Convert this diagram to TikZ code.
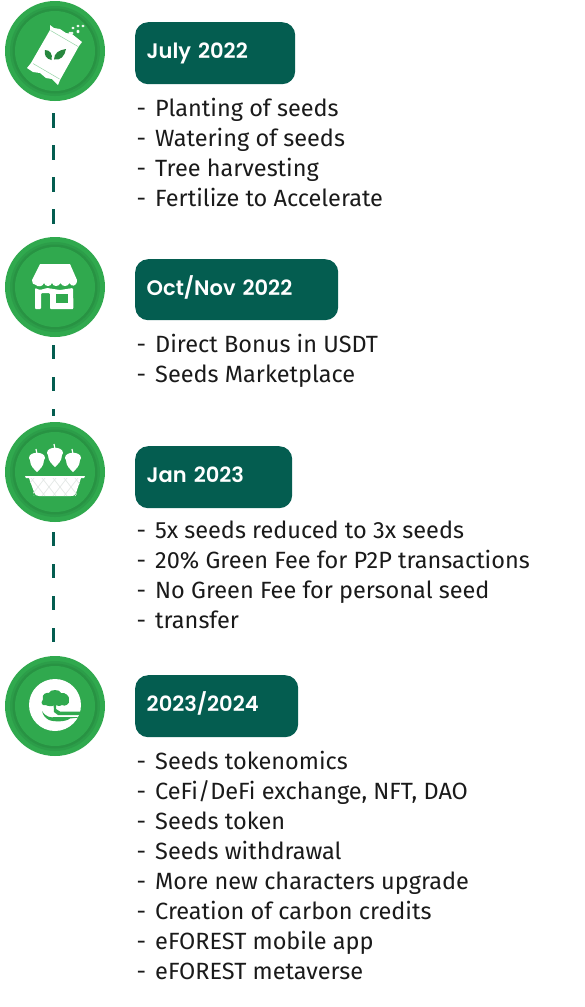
\documentclass[tikz,border=0pt]{standalone}
\usepackage{fontspec}
\setmainfont{Fira Sans}
\newfontfamily\headfont{Poppins SemiBold}
\definecolor{pine}{HTML}{045D50}
\definecolor{leaf}{HTML}{30A94E}
\definecolor{leafdark}{HTML}{278F41}
\definecolor{leafmid}{HTML}{2C9D49}
\definecolor{ink}{HTML}{1A1A1A}
\definecolor{lattice}{HTML}{E4E8E6}
\newcommand{\itm}[1]{\makebox[18.5pt][l]{-}#1\\}
\tikzset{
  x=1pt,y=-1pt,
  pill/.style={fill=pine,rounded corners=13pt,anchor=north west,inner sep=0pt,text=white,font=\headfont\fontsize{21}{24}\selectfont,align=left,text height=15.5pt,text depth=4.5pt},
  items/.style={anchor=north west,inner sep=0pt,align=left,text=ink,font=\fontsize{23.5}{30}\selectfont},
  link/.style={draw=pine,line width=3.4pt,dash pattern=on 15pt off 17pt},
  badge/.style={circle,fill=leaf,minimum size=100pt,inner sep=0pt},
  icon/.style={fill=white,draw=none},
}
\newcommand{\badgerings}[1]{%
  \fill[leafmid] (#1) circle (45);
  \fill[leafdark!85!leaf] (#1) circle (42.5);
  \fill[leaf] (#1) circle (40);
}
\newcommand{\acorn}[1]{%
 \begin{scope}[shift={(#1)}]
  \fill[icon] (-8,-4) .. controls (-8,-11) and (8,-11) .. (8,-4) -- (7,-2) .. controls (7,4) and (3,7) .. (0,10) .. controls (-3,7) and (-7,4) .. (-7,-2) -- cycle;
  \draw[white,line width=1.2pt] (0,-8) -- (-1,-13);
 \end{scope}}
\begin{document}
\begin{tikzpicture}
\useasboundingbox (0,0) rectangle (584,1007);
\fill[white] (0,0) rectangle (584,1007);

\node[badge] (b1) at (55,51) {};
\node[badge] (b2) at (55,287) {};
\node[badge] (b3) at (55,472) {};
\node[badge] (b4) at (55,706) {};
\badgerings{b1}\badgerings{b2}\badgerings{b3}\badgerings{b4}

\coordinate (s1) at (53.5,113); \coordinate (e1) at (53.5,224);
\coordinate (s2) at (53.5,345); \coordinate (e2) at (53.5,416);
\coordinate (s3) at (53.5,532); \coordinate (e3) at (53.5,643);
\draw[link] (s1) -- (e1);
\draw[link,dash pattern=on 14pt off 18pt] (s2) -- (e2);
\draw[link,dash pattern=on 14pt off 18pt] (s3) -- (e3);

% seed bag
\fill[icon] (50,25) -- (54,28) -- (60,29) -- (66,33) -- (72,34) -- (82,42) -- (79,46) -- (60,80) -- (58,85) -- (52,79) -- (46,78) -- (40,73) -- (33,72) -- (27,68) -- (31,63) -- (50,30) -- cycle;
\draw[leaf!50!white,line width=.5pt] (50.5,30.5) -- (78,46.5);
\draw[leaf!50!white,line width=.5pt] (33,63.5) -- (59.5,79);
\fill[leaf!80!black] (45,50) .. controls (50,50) and (53,54) .. (51.5,60) .. controls (46,59) and (44,55) .. (45,50) -- cycle;
\fill[leaf!80!black] (66,49) .. controls (65,56) and (60,61) .. (54,59.5) .. controls (54,53) and (59,50) .. (66,49) -- cycle;
\foreach \p/\q in {70/33,73/28,78/26,83/26,78/31,72/33,78/32}
  \fill[icon] (\p,\q) ellipse (1.6 and 1.3);

% shop
\fill[icon] (40,264) -- (70,264) -- (77,280) .. controls (77,287) and (71,287) .. (69.5,283) .. controls (68,287) and (62,287) .. (60.5,283) .. controls (59,287) and (53,287) .. (52,283) .. controls (51,287) and (45,287) .. (44,283) .. controls (43,287) and (37,287) .. (36,285) .. controls (33,285) and (32,283) .. (32,280) -- cycle;
\fill[icon,even odd rule,rounded corners=1pt] (35,288) -- (40,290) -- (47,288) -- (60,290) -- (73,288) -- (73.5,309) -- (50,309) -- (50,293) -- (41,293) -- (41,309) -- (35,309) -- cycle;
\fill[leaf] (56,294) rectangle (68,303);

% basket
\acorn{37,462}\acorn{55,457}\acorn{73,462}
\fill[icon] (25,476) -- (85,476) -- (84,478) -- (81,478) -- (76,493) .. controls (75,496) and (73,496) .. (71,496) -- (39,496) .. controls (36,496) and (35,495) .. (34,492) -- (29,478) -- (26,478) -- cycle;
\begin{scope}
 \clip (29,478) -- (81,478) -- (76,496) -- (34,496) -- cycle;
 \foreach \k in {0,...,6} {
  \draw[lattice,line width=.7pt] (20+\k*11,478) -- (34+\k*11,496);
  \draw[lattice,line width=.7pt] (34+\k*11,478) -- (20+\k*11,496);
 }
\end{scope}

% eFOREST mark
\fill[icon] (55,705) circle (26);
\fill[leaf] (43,699.5) .. controls (41,694) and (47,692) .. (49,693) .. controls (50,689) and (60,689) .. (61,693) .. controls (65,692) and (70,696) .. (69,700) .. controls (70,704) and (65,707) .. (62,705) .. controls (59,707) and (57,705) .. (55,705) .. controls (52,707) and (47,706) .. (46,705) .. controls (42,706) and (40,703) .. (43,699.5) -- cycle;
\fill[leaf] (53.5,703) -- (56,703) -- (56,709) -- (60,711.5) -- (81,711.5) -- (81,715) -- (58,715) -- (54,712) -- cycle;
\fill[leaf] (42,711) .. controls (46,717) and (50,718) .. (56,717) -- (79,717) -- (79,717.5) -- (70,718.5) .. controls (66,722) and (54,722) .. (49,720) .. controls (45,718) and (43,715) .. (42,711) -- cycle;

% date pills
\node[pill,minimum width=160pt,minimum height=62pt,text width=137pt] (p1) at (135,22) {\hspace*{0pt}July 2022};
\node[pill,minimum width=203pt,minimum height=61pt,text width=180pt] (p2) at (135,259) {Oct/Nov 2022};
\node[pill,minimum width=157pt,minimum height=62pt,text width=134pt] (p3) at (135,446) {Jan 2023};
\node[pill,minimum width=163pt,minimum height=62pt,text width=140pt] (p4) at (135,675) {2023/2024};

\node[items] (t1) at (136.5,98) {\itm{Planting of seeds}\itm{Watering of seeds}\itm{Tree harvesting}\itm{Fertilize to Accelerate}};
\node[items] (t2) at (136.5,334) {\itm{Direct Bonus in USDT}\itm{Seeds Marketplace}};
\node[items] (t3) at (136.5,521) {\itm{5x seeds reduced to 3x seeds}\itm{20\% Green Fee for P2P transactions}\itm{No Green Fee for personal seed}\itm{\hspace*{0pt}}};
\node[items,anchor=north west] (t3b) at (155,611) {transfer};
\node[items] (t4) at (136.5,751) {\itm{Seeds tokenomics}\itm{CeFi/DeFi exchange, NFT, DAO}\itm{Seeds token}\itm{Seeds withdrawal}\itm{More new characters upgrade}\itm{Creation of carbon credits}\itm{eFOREST mobile app}\itm{eFOREST metaverse}};
\end{tikzpicture}
\end{document}
